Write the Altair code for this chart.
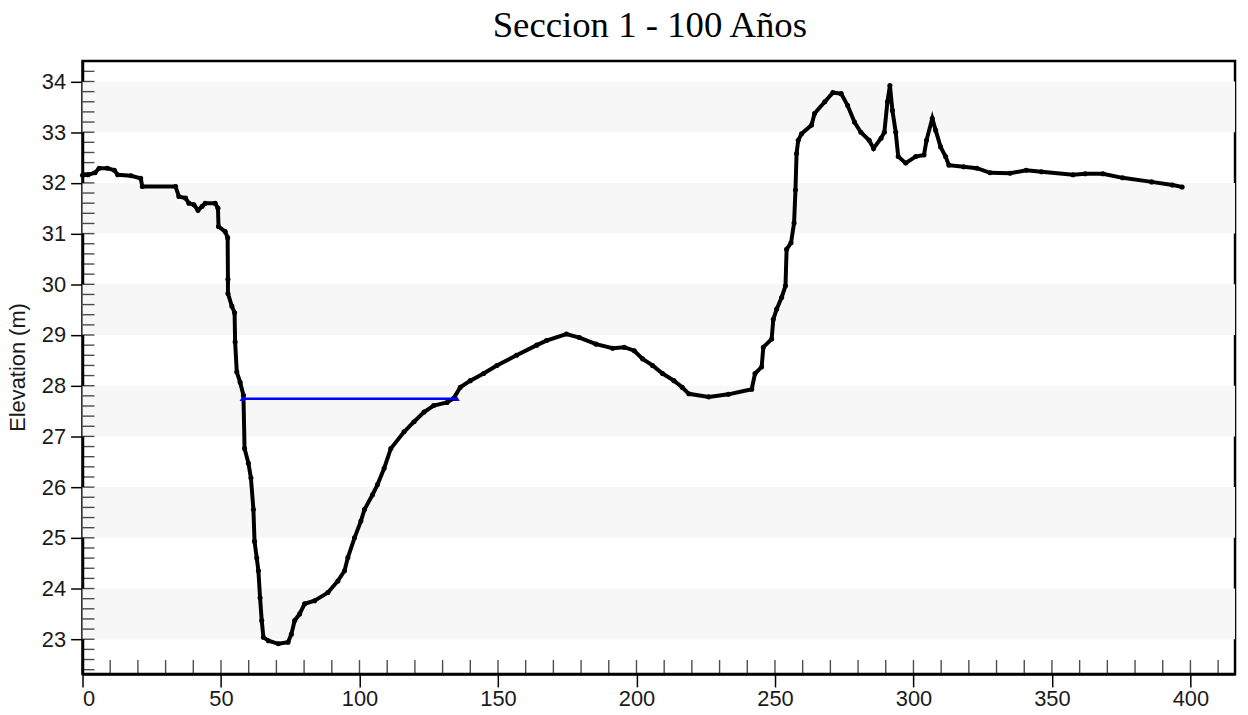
import altair as alt
import pandas as pd
import numpy as np

# ---- data ----
station = [0, 2, 4.5, 6, 9, 11.5, 12.7, 17.5, 21, 21.6, 33.6, 34.8, 37.2, 38.4, 40.2, 41.7,
           43.2, 44.3, 47.9, 48.9, 49.1, 51.5, 52.4, 52.5, 52.5, 53.9, 54.9, 55.1, 55.7, 56.9,
           58.1, 58.5, 59.9, 60.8, 61.7, 62.1, 62.9, 63.5, 64.1, 64.7, 65.3, 67.1, 70.7, 74.2,
           75.4, 76.6, 78.4, 80.2, 83.8, 88.6, 92.2, 94.6, 95.8, 98.2, 100.5, 101.8, 104.7,
           106.5, 108.9, 111.3, 116.1, 119.7, 123.3, 126.8, 131.6, 134, 136.4, 140, 144.8,
           149.6, 156.7, 164, 167.5, 174.7, 179.4, 185.4, 191.4, 195.6, 199.2, 202.2, 205.8,
           209.4, 213.5, 216.5, 218.9, 226.1, 233.2, 241.6, 242.8, 245.2, 245.8, 248.8, 249.4,
           250.6, 252.4, 253.8, 254.2, 255.8, 256.9, 257.4, 257.8, 258.4, 259.6, 263.2, 264.3,
           268, 270.9, 273.9, 276.2, 278.7, 281, 284, 285.6, 288.3, 289.5, 290.6, 291.5, 292.4,
           293.6, 294.5, 297.2, 300.8, 303.8, 304.7, 306.8, 308, 309.8, 311.6, 312.8, 318.1,
           322.9, 327.7, 334.9, 340.7, 346.2, 357.6, 362, 368.4, 375.5, 386, 393.5, 397]
elevation = [32.15, 32.16, 32.2, 32.29, 32.29, 32.25, 32.16, 32.14, 32.09, 31.93, 31.93, 31.73,
             31.7, 31.6, 31.57, 31.46, 31.54, 31.6, 31.6, 31.5, 31.14, 31.04, 30.92, 30.1, 29.82,
             29.57, 29.44, 28.86, 28.27, 28.07, 27.81, 26.76, 26.47, 26.18, 25.56, 24.93, 24.6,
             24.35, 23.82, 23.37, 23.04, 22.97, 22.91, 22.94, 23.1, 23.37, 23.5, 23.7, 23.76,
             23.92, 24.15, 24.35, 24.61, 25.0, 25.33, 25.56, 25.85, 26.05, 26.37, 26.76, 27.09,
             27.29, 27.48, 27.61, 27.67, 27.75, 27.97, 28.1, 28.24, 28.4, 28.6, 28.8, 28.89,
             29.02, 28.95, 28.82, 28.74, 28.76, 28.69, 28.53, 28.4, 28.24, 28.1, 27.97, 27.84,
             27.78, 27.83, 27.93, 28.24, 28.37, 28.76, 28.92, 29.31, 29.51, 29.74, 29.97, 30.69,
             30.82, 31.21, 31.86, 32.58, 32.84, 32.97, 33.14, 33.37, 33.6, 33.78, 33.76, 33.53,
             33.2, 33.0, 32.84, 32.68, 32.88, 33.0, 33.6, 33.92, 33.43, 33.0, 32.52, 32.39, 32.52,
             32.55, 32.84, 33.27, 33.04, 32.71, 32.52, 32.35, 32.32, 32.29, 32.2, 32.19, 32.25,
             32.22, 32.16, 32.18, 32.18, 32.1, 32.02, 31.96, 31.92]
ws_station = [57.7, 135.2]
ws_elev = [27.745, 27.745]
band_lo = [23, 25, 27, 29, 31, 33]
band_hi = [24, 26, 28, 30, 32, 34]
x_major = [0, 50, 100, 150, 200, 250, 300, 350, 400]
y_major = [23, 24, 25, 26, 27, 28, 29, 30, 31, 32, 33, 34]
title_text = "Seccion 1 - 100 Años"
y_title = "Elevation (m)"

# ---- layout ----
W, H = 1160, 617
xs = alt.Scale(domain=[0, 416.1], nice=False, zero=False)
ys = alt.Scale(domain=[22.315, 34.405], nice=False, zero=False)

terrain = pd.DataFrame({"station": station, "elev": elevation})
ws = pd.DataFrame({"station": ws_station, "elev": ws_elev})
bands = pd.DataFrame({"lo": band_lo, "hi": band_hi})
ytick = pd.DataFrame({"v": [round(float(v), 1) for v in np.arange(22.4, 34.41, 0.2)]})
xtick = pd.DataFrame({"v": [int(v) for v in np.arange(0, 411, 10)]})

band_layer = alt.Chart(bands).mark_rect(color="#f7f7f7").encode(
    x=alt.value(0), x2=alt.value(W),
    y=alt.Y("lo:Q", scale=ys), y2="hi:Q")

# inward ticks (every 0.2 m and every 10 m)
yt_layer = alt.Chart(ytick).mark_tick(color="black", thickness=1.4, size=12,
                                      orient="horizontal").encode(
    y=alt.Y("v:Q", scale=ys), x=alt.value(6))
xt_layer = alt.Chart(xtick).mark_tick(color="black", thickness=1.4, size=14,
                                      orient="vertical").encode(
    x=alt.X("v:Q", scale=xs), y=alt.value(H - 7))

line_layer = alt.Chart(terrain).mark_line(color="black", strokeWidth=4).encode(
    x=alt.X("station:Q", scale=xs),
    y=alt.Y("elev:Q", scale=ys))
pts_layer = alt.Chart(terrain).mark_point(filled=True, color="black", size=26, opacity=1).encode(
    x=alt.X("station:Q", scale=xs),
    y=alt.Y("elev:Q", scale=ys))

ws_line = alt.Chart(ws).mark_line(color="#0000ff", strokeWidth=2.5).encode(
    x=alt.X("station:Q", scale=xs),
    y=alt.Y("elev:Q", scale=ys))
ws_pts = alt.Chart(ws).mark_point(shape="triangle-up", filled=True, color="#0000ff",
                                  size=30, opacity=1).encode(
    x=alt.X("station:Q", scale=xs),
    y=alt.Y("elev:Q", scale=ys))

axis_style = dict(grid=False, format="d",
                  labelFont="Liberation Sans", labelFontSize=22, labelColor="#1a1a1a",
                  tickColor="black", tickWidth=1.5, domainColor="black", domainWidth=2.5)

# axes are set once for the whole layer (shared x / y)
chart = alt.layer(band_layer, yt_layer, xt_layer, line_layer, pts_layer,
                  ws_line, ws_pts).encode(
    x=alt.X("station:Q", scale=xs, title=None,
            axis=alt.Axis(values=x_major, labelPadding=2, tickSize=13, **axis_style)),
    y=alt.Y("elev:Q", scale=ys, title=y_title,
            axis=alt.Axis(values=y_major, labelPadding=5, tickSize=12,
                          titleFont="Liberation Sans", titleFontSize=22,
                          titleFontWeight="normal", titleColor="#1a1a1a",
                          titleAngle=270, titleX=-58, titleY=308,
                          titleAlign="center", titleBaseline="alphabetic",
                          **axis_style)),
).properties(
    width=W, height=H,
    title=alt.TitleParams(title_text, font="Liberation Serif", fontSize=37, fontWeight="normal",
                          color="black", anchor="middle", frame="group", dx=-9, offset=16),
    autosize=alt.AutoSizeParams(type="none"),
    padding={"left": 75, "top": 51, "right": 5, "bottom": 39},
).configure(
    background="white",
    view=alt.ViewConfig(stroke="black", strokeWidth=2.5),
)

chart.save("out.html", embed_options={"renderer": "svg", "actions": False})
